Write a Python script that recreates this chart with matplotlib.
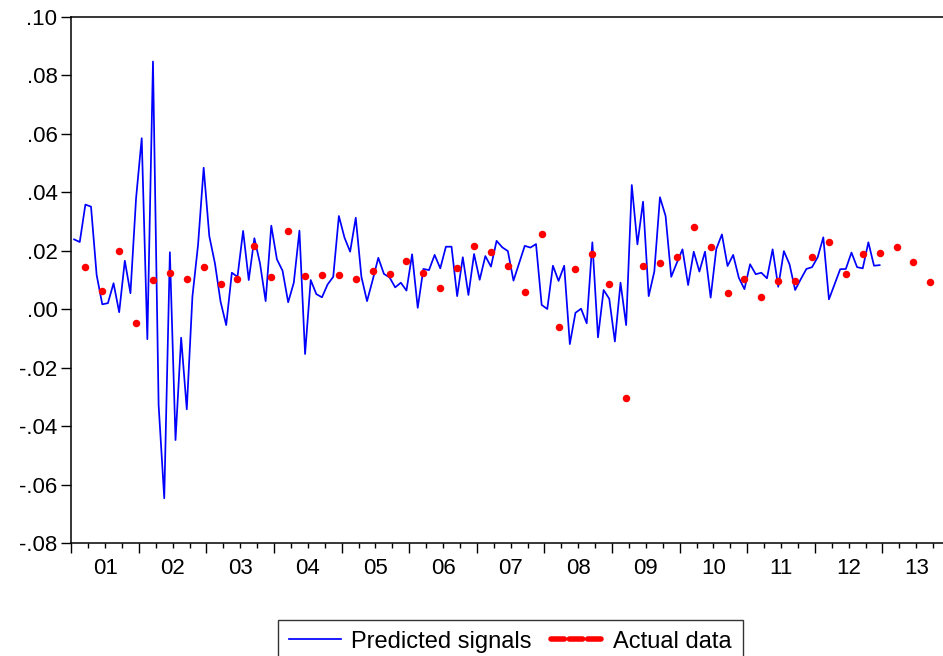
import numpy as np
import matplotlib
matplotlib.use("Agg")
import matplotlib.pyplot as plt
from matplotlib.lines import Line2D
from matplotlib.ticker import FuncFormatter

plt.rcParams['font.family'] = ['Liberation Sans', 'DejaVu Sans']

# Monthly predicted signal, 2001M01 - 2012M12
predicted = [
    0.0239, 0.0230, 0.0358, 0.0351, 0.0117, 0.0017, 0.0021, 0.0089, -0.0010, 0.0166, 0.0055, 0.0380,   # 2001
    0.0585, -0.0102, 0.0847, -0.0327, -0.0646, 0.0195, -0.0447, -0.0097, -0.0342, 0.0043, 0.0220, 0.0484,  # 2002
    0.0250, 0.0157, 0.0026, -0.0054, 0.0125, 0.0111, 0.0268, 0.0100, 0.0243, 0.0157, 0.0028, 0.0286,   # 2003
    0.0171, 0.0132, 0.0024, 0.0091, 0.0269, -0.0153, 0.0100, 0.0052, 0.0041, 0.0085, 0.0111, 0.0319,   # 2004
    0.0245, 0.0197, 0.0313, 0.0111, 0.0028, 0.0100, 0.0176, 0.0121, 0.0109, 0.0075, 0.0091, 0.0064,    # 2005
    0.0188, 0.0005, 0.0138, 0.0134, 0.0186, 0.0140, 0.0214, 0.0214, 0.0045, 0.0178, 0.0049, 0.0189,    # 2006
    0.0101, 0.0182, 0.0146, 0.0234, 0.0212, 0.0199, 0.0098, 0.0157, 0.0217, 0.0211, 0.0223, 0.0015,    # 2007
    0.0001, 0.0149, 0.0097, 0.0149, -0.0119, -0.0012, 0.0002, -0.0048, 0.0229, -0.0096, 0.0066, 0.0036,  # 2008
    -0.0110, 0.0091, -0.0054, 0.0425, 0.0222, 0.0368, 0.0045, 0.0129, 0.0383, 0.0319, 0.0111, 0.0159,  # 2009
    0.0205, 0.0083, 0.0197, 0.0129, 0.0197, 0.0040, 0.0206, 0.0256, 0.0148, 0.0186, 0.0108, 0.0069,    # 2010
    0.0154, 0.0120, 0.0125, 0.0106, 0.0205, 0.0077, 0.0199, 0.0154, 0.0066, 0.0103, 0.0138, 0.0144,    # 2011
    0.0178, 0.0246, 0.0034, 0.0085, 0.0137, 0.0138, 0.0194, 0.0144, 0.0140, 0.0229, 0.0149, 0.0151,    # 2012
]

# Quarterly actual data, 2001Q1 - 2013Q3 (plotted at the last month of each quarter)
actual = [
    0.0146, 0.0064, 0.0198, -0.0046,
    0.0100, 0.0123, 0.0104, 0.0146,
    0.0085, 0.0103, 0.0216, 0.0111,
    0.0268, 0.0114, 0.0117, 0.0117,
    0.0103, 0.0130, 0.0120, 0.0166,
    0.0125, 0.0074, 0.0140, 0.0216,
    0.0197, 0.0148, 0.0059, 0.0257,
    -0.0059, 0.0138, 0.0188, 0.0086,
    -0.0302, 0.0149, 0.0159, 0.0178,
    0.0281, 0.0214, 0.0057, 0.0104,
    0.0042, 0.0096, 0.0096, 0.0178,
    0.0229, 0.0121, 0.0188, 0.0194,
    0.0213, 0.0161, 0.0093,
]

year_labels = ['01', '02', '03', '04', '05', '06', '07', '08', '09', '10', '11', '12', '13']

# x axis in months since 2001M01, points at the middle of each month
x_pred = np.arange(len(predicted)) + 0.5
x_act = np.arange(len(actual)) * 3 + 2.5

fig = plt.figure(figsize=(9.43, 6.56), dpi=100)
W, H = 943, 656
left, top, bottom = 71.3, 16.8, 543.3
width = 156 * 5.633
ax = fig.add_axes([left / W, 1 - bottom / H, width / W, (bottom - top) / H])

ax.plot(x_pred, predicted, color='#0000ff', lw=1.25, label='Predicted signals')
ax.plot(x_act, actual, 'o', color='#ff0000', ms=5.4, mec='none')

ax.set_xlim(0, 156)
ax.set_ylim(-0.08, 0.10)

ax.set_yticks(np.arange(-0.08, 0.101, 0.02))
ax.yaxis.set_major_formatter(FuncFormatter(lambda v, p: f"{v:.2f}".replace('0.', '.')))

years = np.arange(0, 157, 12)
quarters = [q for q in range(3, 156, 3) if q % 12 != 0]
qlabels = [year_labels[q // 12] if q % 12 == 6 else '' for q in quarters]
ax.set_xticks(years, labels=[''] * len(years))
ax.set_xticks(quarters, labels=qlabels, minor=True)

ax.tick_params(axis='y', direction='out', length=7, width=1, pad=3, labelsize=16)
ax.tick_params(axis='x', which='major', direction='out', length=7.2, width=1)
ax.tick_params(axis='x', which='minor', direction='out', length=3.6, width=1, pad=7, labelsize=16)

for s in ['left', 'bottom', 'top']:
    ax.spines[s].set_linewidth(1.1)
    ax.spines[s].set_color('black')
ax.spines['right'].set_visible(False)

handles = [
    Line2D([], [], color='#0000ff', lw=1.25),
    Line2D([], [], color='#ff0000', lw=4, linestyle=(0, (2.4, 0.9)), dash_capstyle='round'),
]
leg = fig.legend(handles, ['Predicted signals', 'Actual data'], loc='upper center',
                 bbox_to_anchor=(510.5 / W, 1 - 620 / H), ncol=2, fontsize=17,
                 frameon=True, fancybox=False, edgecolor='black', handlelength=2.2,
                 handletextpad=0.45, columnspacing=0.8, borderpad=0.45, borderaxespad=0)
leg.get_frame().set_linewidth(1.0)

fig.savefig('out.png', dpi=100)
